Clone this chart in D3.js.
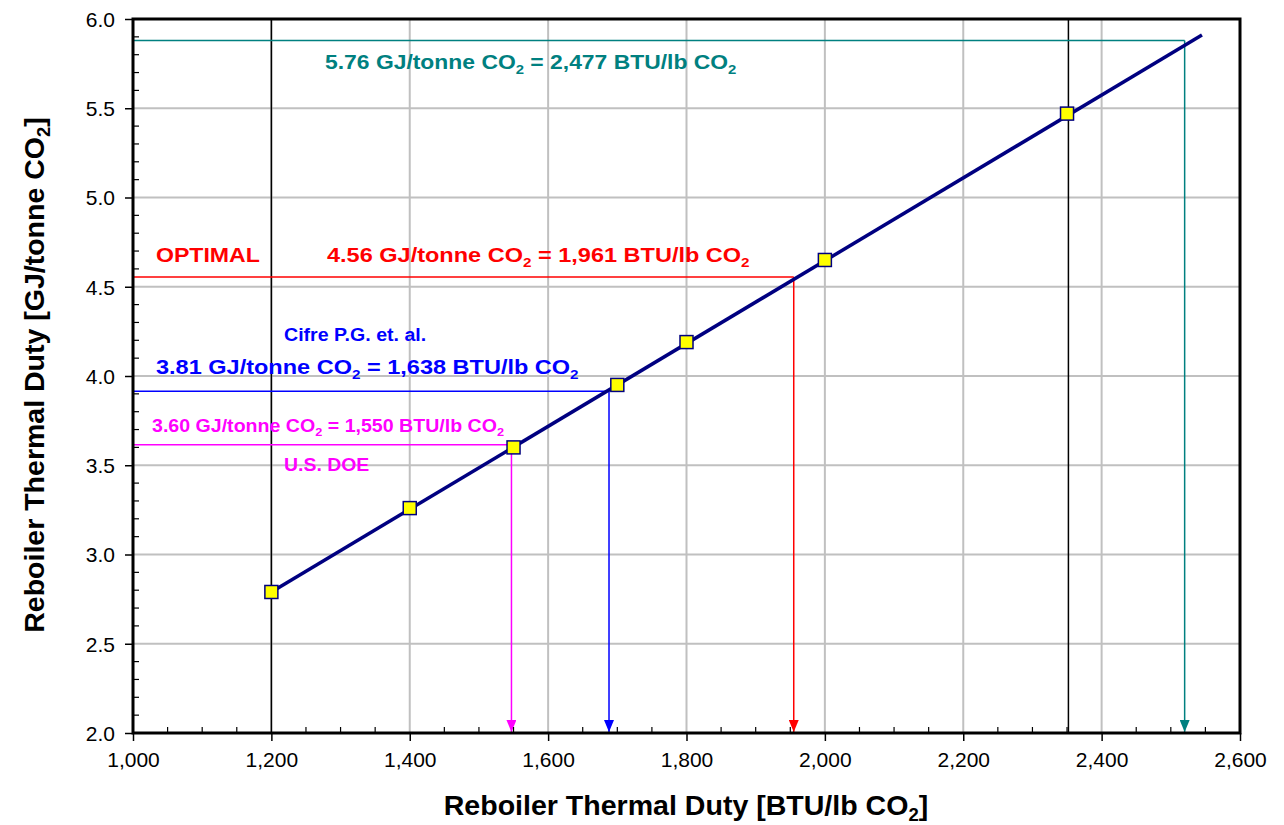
<!DOCTYPE html>
<html><head><meta charset="utf-8">
<script src="https://cdn.jsdelivr.net/npm/d3@7"></script>
<style>body{margin:0;background:#fff}svg{display:block}text{font-family:"Liberation Sans",Arial,sans-serif}</style>
</head><body><svg id="c" width="1284" height="825"></svg>
<script>
// data
const pointsBTU = [1200, 1400, 1550, 1700, 1800, 2000, 2350];
const pointsGJ  = [2.79, 3.26, 3.60, 3.95, 4.19, 4.65, 5.47];
const trendBTU = [1200, 2545];
const trendGJ  = [2.79, 5.91];
const xTicks = [1000,1200,1400,1600,1800,2000,2200,2400,2600];
const yTicks = [2.0,2.5,3.0,3.5,4.0,4.5,5.0,5.5,6.0];
const refLinesBTU = [1200, 2352];
// annotations
const annoNames = ["teal","red","blue","magenta"];
const annoBTU = [2520, 1955, 1688, 1547];
const annoGJ  = [5.88, 4.555, 3.915, 3.615];
const annoColor = ["#008080","#ff0000","#0000ff","#ff00ff"];

const svg = d3.select("#c");
const x = d3.scaleLinear().domain([1000,2600]).range([133,1240]);
const y = d3.scaleLinear().domain([2,6]).range([733,19]);

// grid
svg.append("g").selectAll("line").data(xTicks.slice(1,-1)).join("line")
  .attr("x1",d=>x(d)).attr("x2",d=>x(d)).attr("y1",y(2)).attr("y2",y(6))
  .attr("stroke","#c0c0c0").attr("stroke-width",2);
svg.append("g").selectAll("line").data(yTicks.slice(1,-1)).join("line")
  .attr("y1",d=>y(d)).attr("y2",d=>y(d)).attr("x1",x(1000)).attr("x2",x(2600))
  .attr("stroke","#c0c0c0").attr("stroke-width",2);
// black reference verticals
svg.append("g").selectAll("line").data(refLinesBTU).join("line")
  .attr("x1",d=>x(d)).attr("x2",d=>x(d)).attr("y1",y(2)).attr("y2",y(6))
  .attr("stroke","#000").attr("stroke-width",1.5);

// annotation lines with arrows
const defs = svg.append("defs");
annoColor.forEach((c,i)=>{
  defs.append("marker").attr("id","ar"+i).attr("viewBox","0 0 10 12")
    .attr("refX",5).attr("refY",12).attr("markerWidth",10).attr("markerHeight",12)
    .attr("markerUnits","userSpaceOnUse").attr("orient","0")
    .append("path").attr("d","M0,0L10,0L5,12Z").attr("fill",c);
});
annoBTU.forEach((b,i)=>{
  const g = svg.append("g");
  g.append("line").attr("x1",x(1000)).attr("x2",x(b)).attr("y1",y(annoGJ[i])).attr("y2",y(annoGJ[i]))
    .attr("stroke",annoColor[i]).attr("stroke-width",1.5);
  g.append("line").attr("x1",x(b)).attr("x2",x(b)).attr("y1",y(annoGJ[i])).attr("y2",y(2)-1)
    .attr("stroke",annoColor[i]).attr("stroke-width",1.5).attr("marker-end","url(#ar"+i+")");
});

// trend line
svg.append("path").datum(trendBTU.map((d,i)=>[d,trendGJ[i]]))
  .attr("d",d3.line().x(d=>x(d[0])).y(d=>y(d[1])))
  .attr("stroke","#000080").attr("stroke-width",3.5).attr("fill","none");
// markers
svg.append("g").selectAll("rect").data(pointsBTU.map((d,i)=>[d,pointsGJ[i]])).join("rect")
  .attr("x",d=>x(d[0])-6.5).attr("y",d=>y(d[1])-6.5).attr("width",13).attr("height",13)
  .attr("fill","#ffff00").attr("stroke","#000080").attr("stroke-width",1.5);

// axes
const xAxis = svg.append("g").attr("transform",`translate(0,${y(2)})`)
  .call(d3.axisBottom(x).tickValues(xTicks).tickFormat(d3.format(",")).tickSize(8).tickPadding(11));
const yAxis = svg.append("g").attr("transform",`translate(${x(1000)},0)`)
  .call(d3.axisLeft(y).tickValues(yTicks).tickFormat(d3.format(".1f")).tickSize(8).tickPadding(10));
[xAxis,yAxis].forEach(a=>{
  a.select(".domain").remove();
  a.selectAll("text").attr("font-size",21).attr("font-family","Liberation Sans, Arial").attr("fill","#000");
  a.selectAll(".tick line").attr("stroke","#000").attr("stroke-width",1.5);
});
xAxis.selectAll("text").attr("dy","0.72em");
yAxis.selectAll("text").attr("dy","0.35em");
// minor ticks (inside)
const minorX = d3.range(1050,2600,50).filter(v=>v%200!==0);
svg.append("g").selectAll("line").data(minorX).join("line")
  .attr("x1",d=>x(d)).attr("x2",d=>x(d)).attr("y1",y(2)).attr("y2",y(2)-6)
  .attr("stroke","#000").attr("stroke-width",1.2);
const minorY = d3.range(21,60).map(v=>v/10).filter(v=>Math.abs(v*2-Math.round(v*2))>0.01);
svg.append("g").selectAll("line").data(minorY).join("line")
  .attr("y1",d=>y(d)).attr("y2",d=>y(d)).attr("x1",x(1000)).attr("x2",x(1000)+6)
  .attr("stroke","#000").attr("stroke-width",1.2);
// frame
svg.append("rect").attr("x",x(1000)).attr("y",y(6)).attr("width",x(2600)-x(1000)).attr("height",y(2)-y(6))
  .attr("fill","none").attr("stroke","#000").attr("stroke-width",3);

// text helper with subscripts, horizontal stretch sx
function label(parts, px, py, size, color, anchor, sx){
  const t = svg.append("text").attr("x",0).attr("y",0).attr("font-size",size)
    .attr("font-weight","bold").attr("fill",color).attr("text-anchor",anchor||"start")
    .attr("transform",`translate(${px},${py}) scale(${sx||1},1)`);
  let lowered = false;
  parts.forEach(p=>{
    if (typeof p === "object"){
      t.append("tspan").attr("font-size",size*0.65).attr("dy",size*0.22).text(p.s);
      lowered = true;
    } else {
      const ts = t.append("tspan").text(p);
      if (lowered){ ts.attr("dy",-size*0.22); lowered = false; }
    }
  });
  return t;
}
label(["5.76 GJ/tonne CO",{s:"2"}," = 2,477 BTU/lb CO",{s:"2"}], 325, 69, 21, annoColor[0], "start", 1.09);
label(["OPTIMAL"], 156, 262, 21, annoColor[1], "start", 1.1);
label(["4.56 GJ/tonne CO",{s:"2"}," = 1,961 BTU/lb CO",{s:"2"}], 327, 262, 21, annoColor[1], "start", 1.12);
label(["Cifre P.G. et. al."], 284, 341, 17.5, annoColor[2], "start", 1.12);
label(["3.81 GJ/tonne CO",{s:"2"}," = 1,638 BTU/lb CO",{s:"2"}], 156, 374, 21, annoColor[2], "start", 1.12);
label(["3.60 GJ/tonne CO",{s:"2"}," = 1,550 BTU/lb CO",{s:"2"}], 152, 432, 17.5, annoColor[3], "start", 1.12);
label(["U.S. DOE"], 284, 471, 18, annoColor[3], "start", 1.08);

// axis titles
label(["Reboiler Thermal Duty [BTU/lb CO",{s:"2"},"]"], 686, 815, 28, "#000", "middle", 1.02);
const yt = label(["Reboiler Thermal Duty [GJ/tonne CO",{s:"2"},"]"], 0, 0, 28.5, "#000", "middle");
yt.attr("transform","translate(44,375) rotate(-90)");
</script></body></html>
